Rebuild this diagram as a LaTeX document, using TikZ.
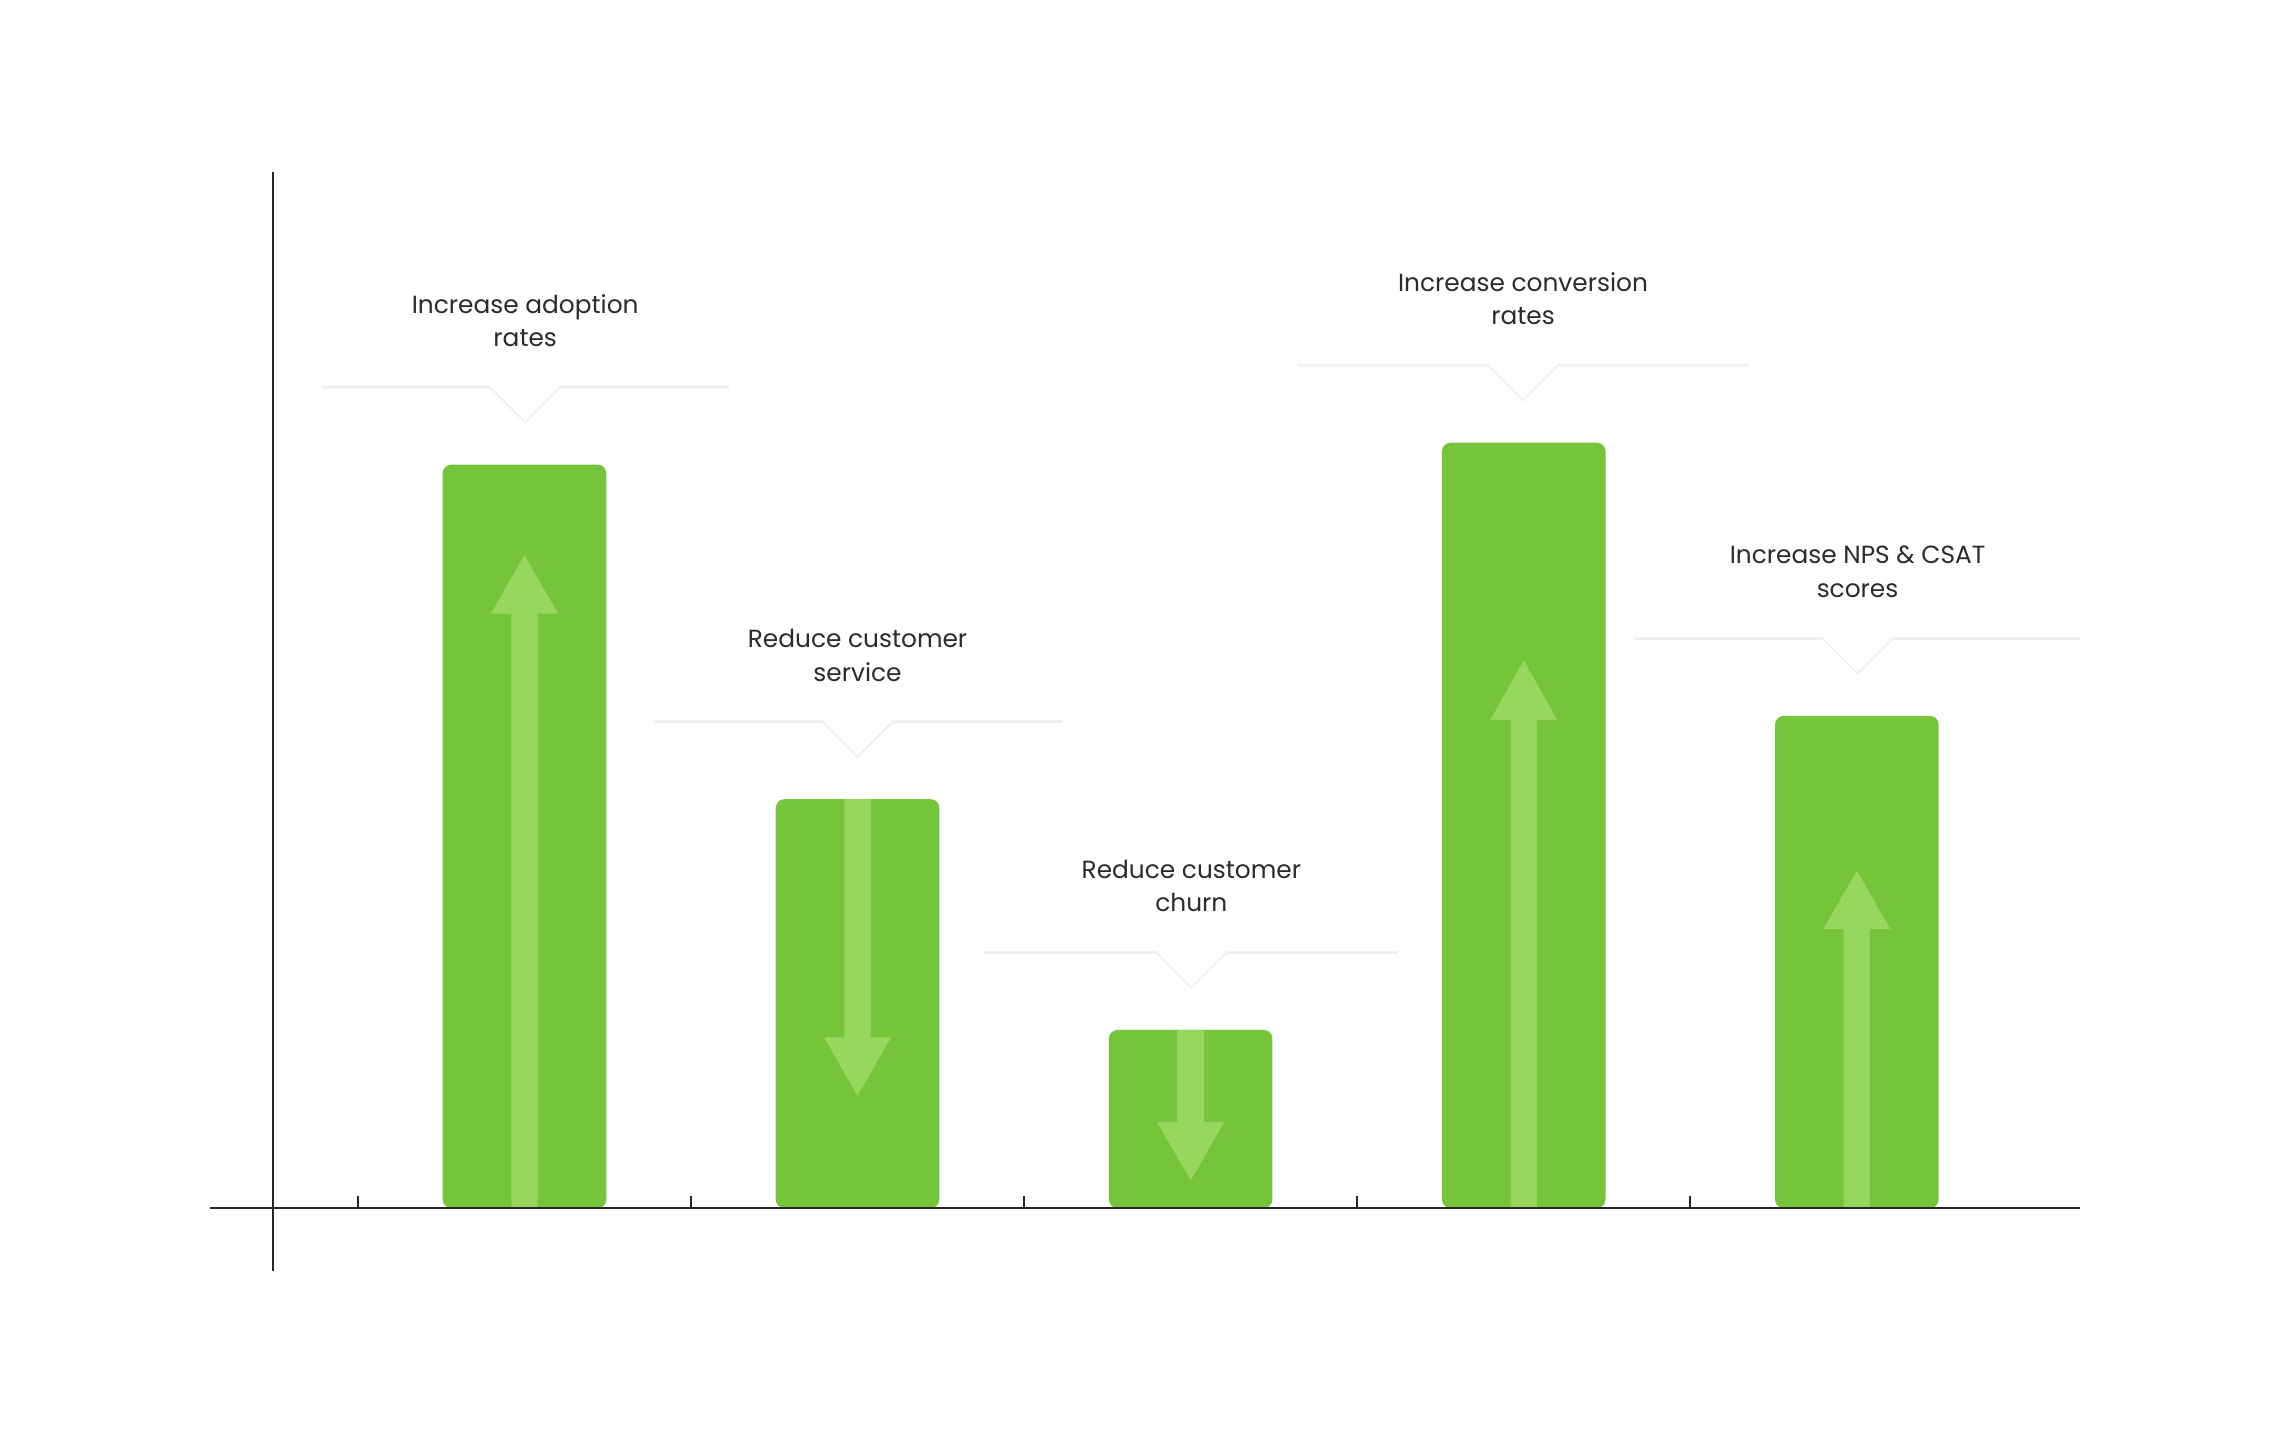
\documentclass[tikz,border=0pt]{standalone}
\usepackage{fontspec}
\setmainfont{Poppins}
\usetikzlibrary{shadows}
\definecolor{bar}{HTML}{76C43A}
\definecolor{arr}{HTML}{98D75E}
\definecolor{txt}{HTML}{2B2B2B}
\tikzset{
  barbox/.style={fill=bar,rounded corners=6pt},
  arrbody/.style={fill=arr},
  callout/.style={fill=white,drop shadow={opacity=0.12,shadow xshift=0pt,shadow yshift=-2pt}},
  label/.style={text=txt,font=\fontsize{17}{23}\selectfont,align=center},
  axis/.style={draw=black!85,line width=1.2pt}
}
\newcommand{\callbox}[6]{% name, x1,y1,x2,y2, text
  \path[callout] (#2,#3) -- (#4,#3) -- (#4,#5) -- ({(#2+#4)/2+24},#5) -- ({(#2+#4)/2},#5+24) -- ({(#2+#4)/2-24},#5) -- (#2,#5) -- cycle;
  \node[label] (#1) at ({(#2+#4)/2},{(#3+#5)/2}) {#6};
}
\newcommand{\barup}[4]{% x1, top, tip, base
  \path[barbox] (#1,827) -- (#1,#2) -- (#1+112,#2) -- (#1+112,827) -- cycle;
  \fill[arr] (#1+47,827) -- (#1+47,#4) -- (#1+33,#4) -- (#1+56,#3) -- (#1+79,#4) -- (#1+65,#4) -- (#1+65,827) -- cycle;
}
\newcommand{\bardown}[4]{% x1, top, base, tip
  \path[barbox] (#1,827) -- (#1,#2) -- (#1+112,#2) -- (#1+112,827) -- cycle;
  \fill[arr] (#1+47,#2) -- (#1+47,#3) -- (#1+33,#3) -- (#1+56,#4) -- (#1+79,#3) -- (#1+65,#3) -- (#1+65,#2) -- cycle;
}
\begin{document}
\begin{tikzpicture}[x=1pt,y=-1pt]
\useasboundingbox[fill=white] (0,0) rectangle (1560,983);
\barup{303}{318}{380}{420}
\bardown{531}{547}{710}{750}
\bardown{759}{705}{768}{808}
\barup{987}{303}{452}{493}
\barup{1215}{490}{596}{636}
\draw[axis] (187,118) coordinate (ytop) -- (187,870) coordinate (ybot);
\draw[axis] (144,827) coordinate (xl) -- (1424,827) coordinate (xr);
\foreach \x in {245,473,701,929,1157} \draw[axis] (\x,819) -- (\x,827);
\callbox{c1}{220}{175}{499}{264}{Increase adoption\\rates}
\callbox{c2}{447}{404}{727}{493}{Reduce customer\\service}
\callbox{c3}{674}{562}{957}{651}{Reduce customer\\churn}
\callbox{c4}{888}{160}{1197}{249}{Increase conversion\\rates}
\callbox{c5}{1119}{347}{1424}{436}{Increase NPS \& CSAT\\scores}
\end{tikzpicture}
\end{document}
